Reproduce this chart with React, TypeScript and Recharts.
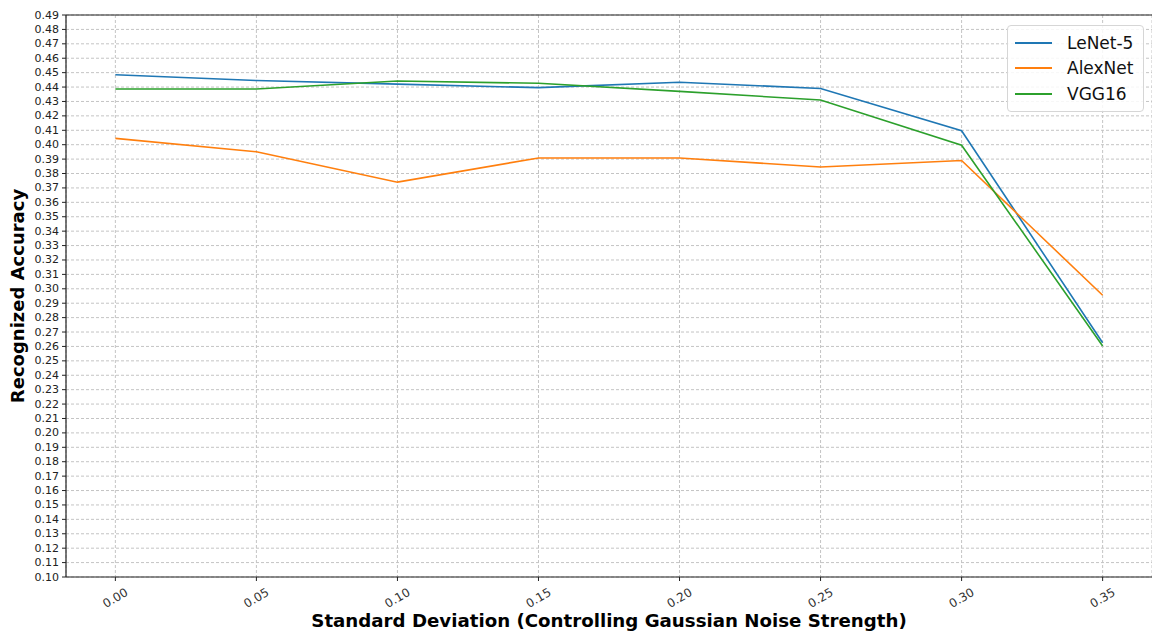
import React from "react";
import {
  LineChart,
  Line,
  XAxis,
  YAxis,
  CartesianGrid,
  Legend,
  ReferenceLine,
  Label,
} from "recharts";

const noiseStd = [0.0, 0.05, 0.1, 0.15, 0.2, 0.25, 0.3, 0.35];
const lenet5 = [0.4485, 0.4445, 0.442, 0.4396, 0.4433, 0.439, 0.4097, 0.2626];
const alexnet = [0.4044, 0.3951, 0.374, 0.3908, 0.3908, 0.3845, 0.389, 0.2955];
const vgg16 = [0.4387, 0.4387, 0.4442, 0.4426, 0.437, 0.431, 0.3996, 0.2603];

const xTicks = [0.0, 0.05, 0.1, 0.15, 0.2, 0.25, 0.3, 0.35];
const yTicks = [
  0.1, 0.11, 0.12, 0.13, 0.14, 0.15, 0.16, 0.17, 0.18, 0.19, 0.2, 0.21, 0.22,
  0.23, 0.24, 0.25, 0.26, 0.27, 0.28, 0.29, 0.3, 0.31, 0.32, 0.33, 0.34, 0.35,
  0.36, 0.37, 0.38, 0.39, 0.4, 0.41, 0.42, 0.43, 0.44, 0.45, 0.46, 0.47, 0.48,
  0.49,
];

const series = [
  { key: "lenet", name: "LeNet-5", color: "#1f77b4" },
  { key: "alexnet", name: "AlexNet", color: "#ff7f0e" },
  { key: "vgg", name: "VGG16", color: "#2ca02c" },
];

const data = noiseStd.map((x, i) => ({
  x,
  lenet: lenet5[i],
  alexnet: alexnet[i],
  vgg: vgg16[i],
}));

const FONT = "'DejaVu Sans', sans-serif";

function XTick(props: any) {
  const { x, y, payload } = props;
  return (
    <g transform={`translate(${x},${y + 15})`}>
      <text
        textAnchor="middle"
        dominantBaseline="central"
        transform="rotate(-30)"
        fontFamily={FONT}
        fontSize={12}
        fill="#333"
      >
        {Number(payload.value).toFixed(2)}
      </text>
    </g>
  );
}

function YTick(props: any) {
  const { x, y, payload } = props;
  return (
    <text
      x={x - 1}
      y={y}
      textAnchor="end"
      dominantBaseline="central"
      fontFamily={FONT}
      fontSize={11}
      fill="#222"
    >
      {Number(payload.value).toFixed(2)}
    </text>
  );
}

function YTitle(props: any) {
  const { viewBox } = props;
  const cy = viewBox.y + viewBox.height / 2;
  return (
    <text
      x={17}
      y={cy}
      transform={`rotate(-90, 17, ${cy})`}
      textAnchor="middle"
      dominantBaseline="central"
      fontFamily={FONT}
      fontWeight="bold"
      fontSize={18}
      fill="#000"
    >
      Recognized Accuracy
    </text>
  );
}

function LegendBox() {
  return (
    <div
      style={{
        border: "1px solid #d6d6d6",
        borderRadius: 4,
        background: "rgba(255,255,255,0.85)",
        padding: "4px 8px 4px 7px",
        fontFamily: FONT,
        fontSize: 17,
        color: "#111",
        width: 120,
      }}
    >
      {series.map((s) => (
        <div
          key={s.key}
          style={{ display: "flex", alignItems: "center", height: 25.5 }}
        >
          <div
            style={{
              width: 37,
              height: 2,
              background: s.color,
              marginRight: 15,
            }}
          />
          <span>{s.name}</span>
        </div>
      ))}
    </div>
  );
}

export default function App() {
  return (
    <div style={{ position: "absolute", left: 0, top: 0, background: "#fff" }}>
      <LineChart
        width={1152}
        height={632}
        data={data}
        margin={{ top: 15, right: 0, left: 0, bottom: 0 }}
      >
        <CartesianGrid stroke="#c4c4c4" strokeDasharray="3 2" />
        <XAxis
          dataKey="x"
          type="number"
          domain={[-0.0175, 0.3675]}
          ticks={xTicks}
          allowDataOverflow
          height={55}
          axisLine={{ stroke: "#222", strokeWidth: 1.2 }}
          tickLine={{ stroke: "#222" }}
          tickSize={4}
          tick={<XTick />}
          interval={0}
        >
          <Label
            value="Standard Deviation (Controlling Gaussian Noise Strength)"
            position="insideBottom"
            offset={5}
            style={{
              fontFamily: FONT,
              fontWeight: "bold",
              fontSize: 18.2,
              fill: "#000",
            }}
          />
        </XAxis>
        <YAxis
          type="number"
          domain={[0.1, 0.49]}
          ticks={yTicks}
          allowDataOverflow
          width={66}
          interval={0}
          axisLine={{ stroke: "#222", strokeWidth: 1.2 }}
          tickLine={{ stroke: "#222" }}
          tickSize={4}
          tick={<YTick />}
        >
          <Label content={<YTitle />} />
        </YAxis>
        <ReferenceLine y={0.49} stroke="#222" strokeWidth={1.2} />
        <Legend
          layout="vertical"
          verticalAlign="middle"
          align="center"
          content={<LegendBox />}
          wrapperStyle={{ top: 25, left: 1007, right: "auto", width: "auto" }}
        />
        {series.map((s) => (
          <Line
            key={s.key}
            dataKey={s.key}
            name={s.name}
            stroke={s.color}
            strokeWidth={1.6}
            dot={false}
            type="linear"
            isAnimationActive={false}
          />
        ))}
      </LineChart>
    </div>
  );
}
